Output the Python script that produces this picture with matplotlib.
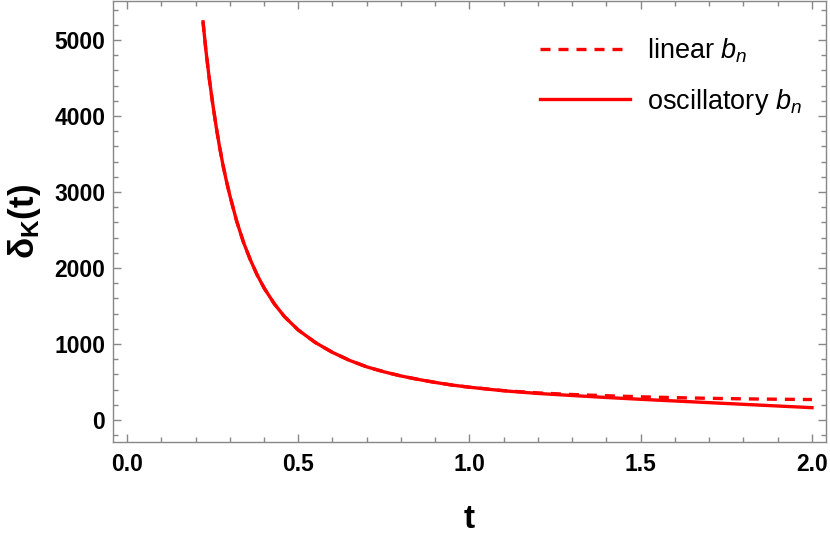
import numpy as np
import matplotlib
matplotlib.use("Agg")
import matplotlib.pyplot as plt
from matplotlib.ticker import MultipleLocator

plt.rcParams['font.family'] = ['Liberation Sans', 'DejaVu Sans']
plt.rcParams['mathtext.fontset'] = 'custom'
plt.rcParams['mathtext.rm'] = 'Liberation Sans'
plt.rcParams['mathtext.it'] = 'Liberation Sans:italic'
plt.rcParams['mathtext.bf'] = 'Liberation Sans:bold'

# 読み取った値 (t と δ_K(t))
t = [0.222, 0.23, 0.24, 0.25, 0.26, 0.27, 0.28, 0.29, 0.30, 0.32,
     0.34, 0.36, 0.38, 0.40, 0.43, 0.46, 0.50, 0.55, 0.60, 0.65,
     0.70, 0.75, 0.80, 0.85, 0.90, 0.95, 1.00, 1.10, 1.20, 1.30,
     1.40, 1.50, 1.60, 1.70, 1.80, 1.90, 2.00]
delta_osc = [5240, 4880, 4500, 4170, 3870, 3600, 3360, 3150, 2960, 2620,
             2340, 2110, 1910, 1740, 1530, 1360, 1185, 1020, 890, 785,
             700, 635, 580, 535, 495, 460, 432, 385, 350, 323,
             297, 273, 251, 229, 207, 185, 163]
delta_lin = [5240, 4880, 4500, 4170, 3870, 3600, 3360, 3150, 2960, 2620,
             2340, 2110, 1910, 1740, 1530, 1360, 1185, 1020, 890, 785,
             700, 635, 580, 535, 495, 460, 432, 387, 357, 336,
             320, 306, 295, 286, 279, 274, 270]

red = '#ff0000'
gray = '#888888'

fig = plt.figure(figsize=(8.3, 5.38), dpi=100)
ax = fig.add_axes([0.1361, 0.1784, 0.8591, 0.8196])

ax.plot(t, delta_lin, color=red, lw=2.4, dashes=(3, 2.4), label=r'linear $b_n$')
ax.plot(t, delta_osc, color=red, lw=2.4, label=r'oscillatory $b_n$')

ax.set_xlim(-0.041, 2.041)
ax.set_ylim(-289, 5513)
ax.xaxis.set_major_locator(MultipleLocator(0.5))
ax.xaxis.set_minor_locator(MultipleLocator(0.1))
ax.yaxis.set_major_locator(MultipleLocator(1000))
ax.yaxis.set_minor_locator(MultipleLocator(200))
ax.xaxis.set_major_formatter(matplotlib.ticker.FormatStrFormatter('%.1f'))

for s in ax.spines.values():
    s.set_color(gray)
    s.set_linewidth(1.0)
ax.tick_params(which='both', direction='in', top=True, right=True, color=gray, width=1.0)
ax.tick_params(which='major', length=5.8)
ax.tick_params(which='minor', length=3.6)
ax.tick_params(axis='x', which='major', pad=8, labelsize=16.5)
ax.tick_params(axis='y', which='major', pad=5.5, labelsize=16.5)
for lab in ax.get_xticklabels() + ax.get_yticklabels():
    lab.set_fontweight('bold')

ax.set_xlabel('t', fontsize=24, fontweight='bold', labelpad=20)
ax.set_ylabel(r'$\mathbf{\delta_K(t)}$', fontsize=25, labelpad=8)

leg = ax.legend(loc='upper right', bbox_to_anchor=(1.0, 0.975), frameon=False,
                fontsize=19.5, handlelength=3.3, handletextpad=0.63, labelspacing=0.8,
                borderaxespad=0.5)

fig.savefig('out.png', dpi=100)
